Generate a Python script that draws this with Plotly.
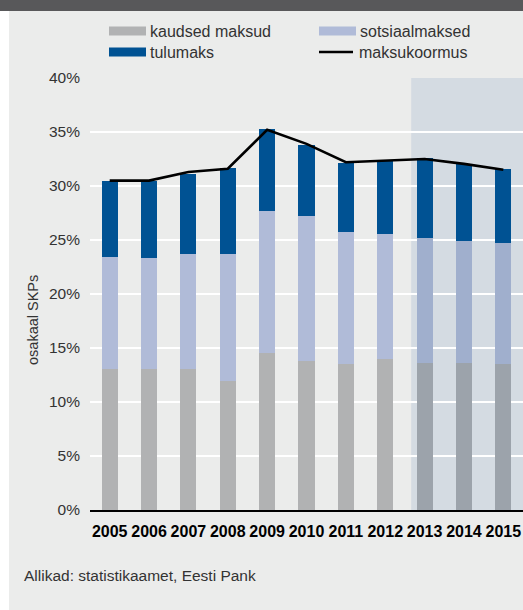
import plotly.graph_objects as go

# data (% of GDP)
years = ['2005', '2006', '2007', '2008', '2009', '2010', '2011', '2012', '2013', '2014', '2015']
kaudsed = [13.1, 13.1, 13.1, 11.9, 14.5, 13.8, 13.5, 14.0, 13.65, 13.65, 13.5]
sotsiaal = [10.35, 10.2, 10.65, 11.85, 13.2, 13.4, 12.25, 11.6, 11.5, 11.25, 11.25]
tulumaks = [7.0, 7.15, 7.4, 7.95, 7.55, 6.6, 6.4, 6.7, 7.4, 7.1, 6.8]
koormus = [30.5, 30.5, 31.3, 31.6, 35.2, 33.9, 32.2, 32.35, 32.5, 32.05, 31.5]
forecast_years = ['2013', '2014', '2015']

W, H = 523, 610
L, R, T, B = 90, 0, 78, 100
BG = '#ebeceb'
FONT = 'Liberation Sans'


def px(x):
    return (x - L) / (W - L - R)


def py(y):
    return (H - B - y) / (H - T - B)


def shade(normal, dark):
    return [dark if y in forecast_years else normal for y in years]


fig = go.Figure()
fig.add_bar(x=years, y=kaudsed, name='kaudsed maksud',
            marker=dict(color=shade('#b1b2b3', '#9ca3ab'), line_width=0))
fig.add_bar(x=years, y=sotsiaal, name='sotsiaalmaksed',
            marker=dict(color=shade('#b0bbd8', '#a0afcd'), line_width=0))
fig.add_bar(x=years, y=tulumaks, name='tulumaks',
            marker=dict(color='#005293', line_width=0))
fig.add_scatter(x=years, y=koormus, name='maksukoormus', mode='lines',
                line=dict(color='black', width=2.6))

# forecast shading
fig.add_shape(type='rect', xref='x', yref='y', x0=7.66, x1=10.5, y0=0, y1=40,
              fillcolor='#d4dbe2', line_width=0, layer='below')
# dark top band and white left strip
fig.add_shape(type='rect', xref='paper', yref='paper', x0=px(0), x1=px(W), y0=py(11), y1=py(0),
              fillcolor='#58585a', line_width=0)
fig.add_shape(type='rect', xref='paper', yref='paper', x0=px(0), x1=px(9), y0=py(H), y1=py(11),
              fillcolor='white', line_width=0)

# legend drawn by hand
legend = [
    ('kaudsed maksud', '#b1b2b3', 109, 31, 'bar'),
    ('sotsiaalmaksed', '#b0bbd8', 319, 31, 'bar'),
    ('tulumaks', '#005293', 109, 52, 'bar'),
    ('maksukoormus', 'black', 319, 52, 'line'),
]
for label, color, x, y, kind in legend:
    if kind == 'bar':
        fig.add_shape(type='rect', xref='paper', yref='paper', x0=px(x), x1=px(x + 37),
                      y0=py(y + 4.5), y1=py(y - 4.5), fillcolor=color, line_width=0)
        tx = x + 39
    else:
        fig.add_shape(type='line', xref='paper', yref='paper', x0=px(x), x1=px(x + 34),
                      y0=py(y), y1=py(y), line=dict(color=color, width=2.4))
        tx = x + 38
    fig.add_annotation(text=label, xref='paper', yref='paper', x=px(tx), y=py(y),
                       xanchor='left', yanchor='middle', showarrow=False,
                       font=dict(size=16, color='#333333', family=FONT))

fig.add_annotation(text='osakaal SKPs', xref='paper', yref='paper', x=px(33), y=py(320),
                   textangle=-90, xanchor='center', yanchor='middle', showarrow=False,
                   font=dict(size=14.5, color='#333333', family=FONT))
fig.add_annotation(text='Allikad: statistikaamet, Eesti Pank', xref='paper', yref='paper',
                   x=px(22), y=py(575), xanchor='left', yanchor='middle', showarrow=False,
                   font=dict(size=15.5, color='#333333', family=FONT))

fig.update_layout(
    width=W, height=H, barmode='stack', bargap=0.59, showlegend=False,
    margin=dict(l=L, r=R, t=T, b=B),
    paper_bgcolor=BG, plot_bgcolor=BG,
    font=dict(family=FONT, color='#333333'),
)
fig.update_xaxes(type='category', range=[-0.5, 10.5], showgrid=False,
                 showline=True, linecolor='black', linewidth=1.5,
                 tickfont=dict(size=16, color='black', family=FONT, weight='bold'),
                 ticklabelstandoff=6)
fig.update_yaxes(range=[0, 40], dtick=5, ticksuffix='%', showgrid=True,
                 gridcolor='white', gridwidth=1.5, zeroline=False,
                 tickfont=dict(size=15.5, color='#333333'), ticklabelstandoff=9)

fig.write_html('out.html', config={'displayModeBar': False},
               post_script="document.body.style.margin='0';")
